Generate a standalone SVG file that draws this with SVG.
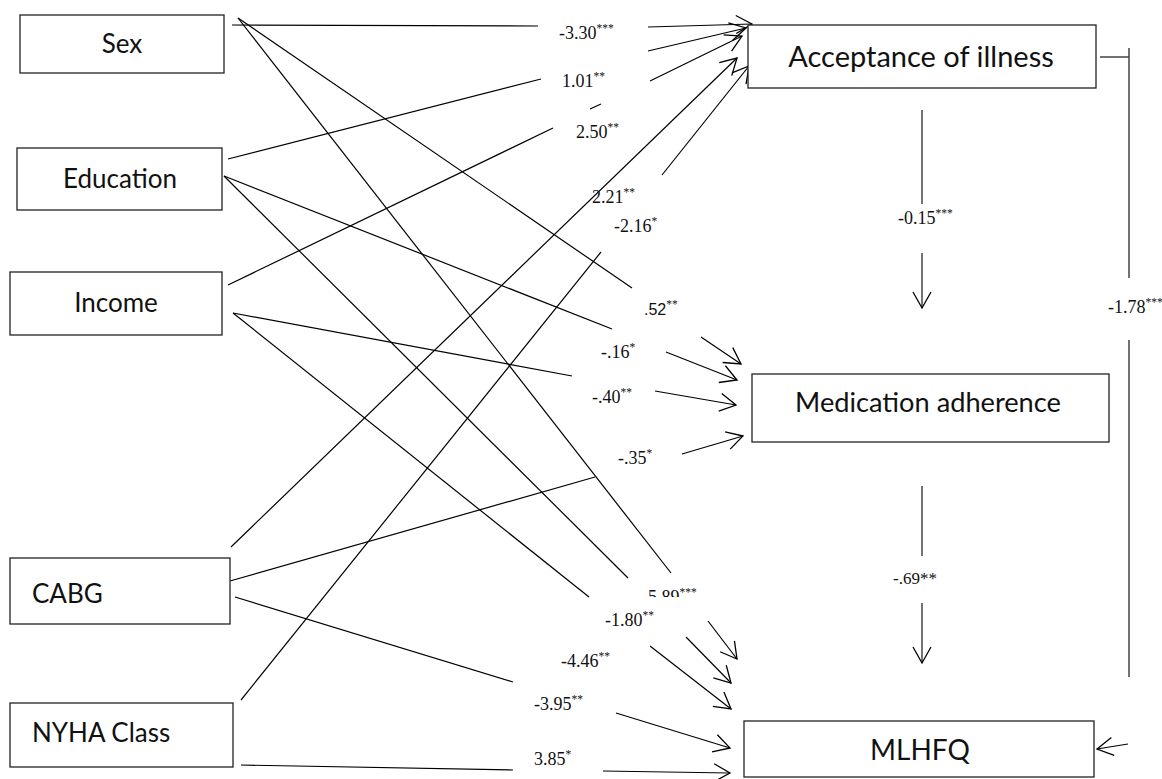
<svg xmlns="http://www.w3.org/2000/svg" width="1162" height="779" viewBox="0 0 1162 779">
<style>
.box{fill:#fff;stroke:#222;stroke-width:1.3}
.lbl{font-family:Lato,"Open Sans",sans-serif;fill:#111}
.ln{fill:none;stroke:#000;stroke-width:1.2}
.gl{fill:none;stroke:#444;stroke-width:1.5}
.num{font-family:"Liberation Serif","Times New Roman",serif;font-size:18px;fill:#111}
.st{font-size:11.5px}
</style>
<defs>
<marker id="ah" viewBox="-18 -11 20 22" refX="0" refY="0" markerWidth="20" markerHeight="22" markerUnits="userSpaceOnUse" orient="auto">
<path d="M-16,-9 L0,0 L-16,9" fill="none" stroke="#000" stroke-width="1.3"/>
</marker>
<clipPath id="clip589"><rect x="600" y="570" width="120" height="27"/></clipPath>
</defs>
<g id="connectors">
<path class="ln" d="M232,25 L538,26"/>
<path class="ln" d="M648,27 L752,24" marker-end="url(#ah)"/>
<path class="ln" d="M228,159 L541,79"/>
<path class="ln" d="M648,51 L746,28" marker-end="url(#ah)"/>
<path class="ln" d="M228,285 L553,128"/>
<path class="ln" d="M590,109 L601,104"/>
<path class="ln" d="M650,81 L742,36" marker-end="url(#ah)"/>
<path class="ln" d="M231,547 L737,58" marker-end="url(#ah)"/>
<path class="ln" d="M241,700 L601,252"/>
<path class="ln" d="M662,175 L749,66" marker-end="url(#ah)"/>
<path class="ln" d="M238,18 L632,288"/>
<path class="ln" d="M701,337 L741,364" marker-end="url(#ah)"/>
<path class="ln" d="M224,176 L612,329"/>
<path class="ln" d="M666,352 L737,380" marker-end="url(#ah)"/>
<path class="ln" d="M233,313 L572,376"/>
<path class="ln" d="M655,391 L736,405" marker-end="url(#ah)"/>
<path class="ln" d="M230,581 L595,477"/>
<path class="ln" d="M682,454 L743,436" marker-end="url(#ah)"/>
<path class="ln" d="M238,18 L671,573"/>
<path class="ln" d="M708,621 L737,659" marker-end="url(#ah)"/>
<path class="ln" d="M224,176 L628,578"/>
<path class="ln" d="M686,637 L731,683" marker-end="url(#ah)"/>
<path class="ln" d="M233,313 L589,597"/>
<path class="ln" d="M650,646 L731,709" marker-end="url(#ah)"/>
<path class="ln" d="M235,597 L513,682"/>
<path class="ln" d="M616,713 L730,748" marker-end="url(#ah)"/>
<path class="ln" d="M241,765 L513,770"/>
<path class="ln" d="M603,771 L730,773" marker-end="url(#ah)"/>
<path class="gl" d="M922,110 L922,204"/>
<path class="gl" d="M922,253 L922,308" marker-end="url(#ah)"/>
<path class="gl" d="M922,486 L922,556"/>
<path class="gl" d="M922,603 L922,663" marker-end="url(#ah)"/>
<path class="gl" d="M1100,57 L1129,57 M1129,48 L1129,278 M1129,340 L1129,677"/>
<path class="ln" d="M1128,744 L1097,749" marker-end="url(#ah)"/>
</g>
<g id="labels">
<text class="num" x="559" y="39">-3.30<tspan class="st" dy="-7">***</tspan></text>
<text class="num" x="562" y="87">1.01<tspan class="st" dy="-7">**</tspan></text>
<text class="num" x="576" y="138">2.50<tspan class="st" dy="-7">**</tspan></text>
<text class="num" x="592" y="203">2.21<tspan class="st" dy="-7">**</tspan></text>
<text class="num" x="614" y="232">-2.16<tspan class="st" dy="-7">*</tspan></text>
<text x="644" y="315" style="font-family:'Liberation Sans',Arial,sans-serif;font-size:16px;fill:#111">.52<tspan class="st" dy="-7" style="font-family:'Liberation Serif',serif">**</tspan></text>
<text class="num" x="601" y="358">-.16<tspan class="st" dy="-7">*</tspan></text>
<text class="num" x="592" y="403">-.40<tspan class="st" dy="-7">**</tspan></text>
<text class="num" x="618" y="464">-.35<tspan class="st" dy="-7">*</tspan></text>
<text class="num" x="648" y="603" clip-path="url(#clip589)">5.89<tspan class="st" dy="-7">***</tspan></text>
<text class="num" x="605" y="626">-1.80<tspan class="st" dy="-7">**</tspan></text>
<text class="num" x="561" y="667">-4.46<tspan class="st" dy="-7">**</tspan></text>
<text class="num" x="534" y="710">-3.95<tspan class="st" dy="-7">**</tspan></text>
<text class="num" x="534" y="765">3.85<tspan class="st" dy="-7">*</tspan></text>
<text class="num" x="898" y="224">-0.15<tspan class="st" dy="-7">***</tspan></text>
<text class="num" x="893" y="584" style="font-size:17px">-.69**</text>
<text class="num" x="1108" y="313">-1.78<tspan class="st" dy="-7">***</tspan></text>
</g>
<g id="sex"><rect class="box" x="20" y="15" width="204" height="58"/><text class="lbl" x="122" y="53" font-size="26" text-anchor="middle">Sex</text></g>
<g id="education"><rect class="box" x="17" y="148" width="205" height="62"/><text class="lbl" x="120" y="188" font-size="26" text-anchor="middle">Education</text></g>
<g id="income"><rect class="box" x="10" y="272" width="212" height="63"/><text class="lbl" x="116" y="312" font-size="26" text-anchor="middle">Income</text></g>
<g id="cabg"><rect class="box" x="10" y="558" width="220" height="66"/><text class="lbl" x="32" y="603" font-size="26">CABG</text></g>
<g id="nyha"><rect class="box" x="10" y="703" width="223" height="64"/><text class="lbl" x="32" y="742" font-size="26">NYHA Class</text></g>
<g id="acceptance"><rect class="box" x="748" y="25" width="348" height="63"/><text class="lbl" x="921" y="67" font-size="29" text-anchor="middle">Acceptance of illness</text></g>
<g id="medication"><rect class="box" x="752" y="374" width="357" height="68"/><text class="lbl" x="928" y="412" font-size="27.2" text-anchor="middle">Medication adherence</text></g>
<g id="mlhfq"><rect class="box" x="744" y="721" width="350" height="56"/><text class="lbl" x="920" y="760" font-size="28" text-anchor="middle">MLHFQ</text></g>
</svg>
